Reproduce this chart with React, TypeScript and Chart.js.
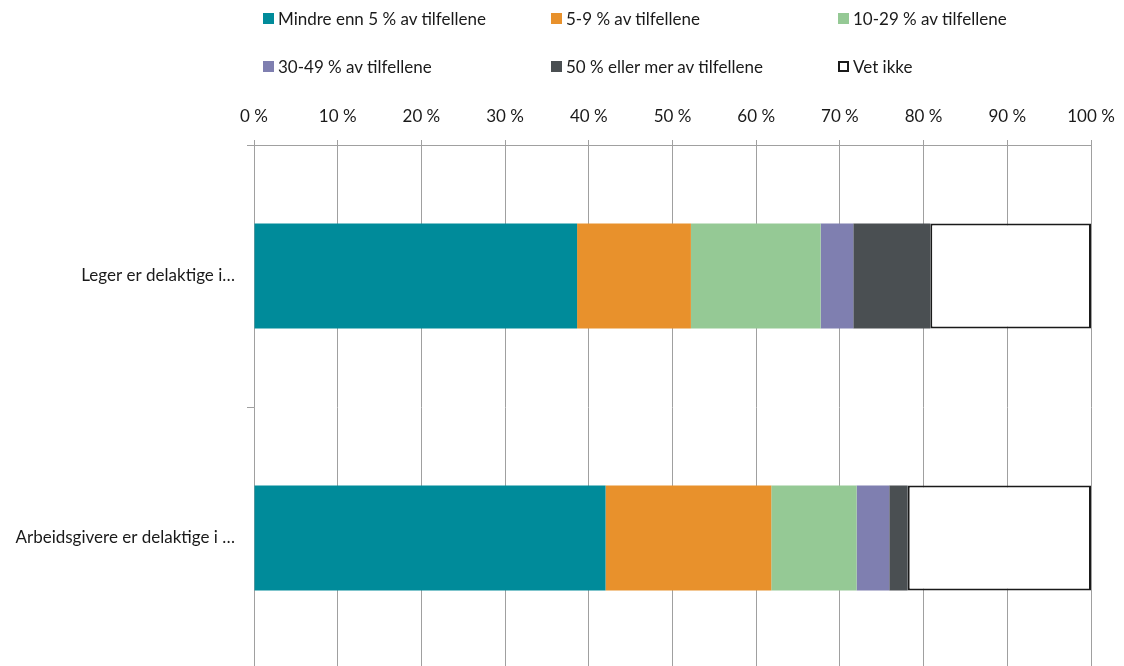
import React, { useEffect, useRef } from "react";
import { Chart, registerables } from "chart.js";

Chart.register(...registerables);

const categories = ["Leger er delaktige i…", "Arbeidsgivere er delaktige i …"];
const seriesLabels = [
  "Mindre enn 5 % av tilfellene",
  "5-9 % av tilfellene",
  "10-29 % av tilfellene",
  "30-49 % av tilfellene",
  "50 % eller mer av tilfellene",
  "Vet ikke",
];
const under5 = [38.6, 42.0];
const from5to9 = [13.6, 19.8];
const from10to29 = [15.5, 10.2];
const from30to49 = [3.9, 3.9];
const over50 = [9.2, 2.2];
const dontKnow = [19.2, 21.9];
const xTicks = [0, 10, 20, 30, 40, 50, 60, 70, 80, 90, 100];

const seriesValues = [under5, from5to9, from10to29, from30to49, over50, dontKnow];
const colors = ["#008b9a", "#e8912c", "#95c995", "#7f7fb0", "#4a4f52", "#ffffff"];

const FONT = "Lato, 'Open Sans', sans-serif";
const FS = 17;

export default function App() {
  const ref = useRef<HTMLCanvasElement>(null);

  useEffect(() => {
    if (!ref.current) return;
    const chart = new Chart(ref.current, {
      type: "bar",
      data: {
        labels: categories,
        datasets: seriesValues.map((vals, i) => ({
          label: seriesLabels[i],
          data: vals,
          backgroundColor: colors[i],
          borderColor: i === 5 ? "#1a1a1a" : colors[i],
          borderWidth: i === 5 ? 2 : 0,
          borderSkipped: false,
          categoryPercentage: 1,
          barPercentage: 0.4,
        })),
      },
      options: {
        indexAxis: "y",
        responsive: false,
        animation: false,
        layout: { padding: { left: 0, right: 33, top: 0, bottom: 0 } },
        plugins: { legend: { display: false }, tooltip: { enabled: false } },
        scales: {
          x: {
            position: "top",
            stacked: true,
            min: 0,
            max: 100,
            afterBuildTicks: (s: any) => {
              s.ticks = xTicks.map((v) => ({ value: v }));
            },
            afterFit: (s: any) => {
              s.height = 145;
              s.paddingLeft = 0;
              s.paddingRight = 0;
            },
            ticks: {
              callback: (v: any) => v + " %",
              color: "#1a1a1a",
              font: { family: FONT, size: FS },
              padding: 13,
              maxRotation: 0,
              autoSkip: false,
            },
            grid: { color: "#a0a0a0", lineWidth: 1, tickLength: 5, drawTicks: true },
            border: { color: "#a0a0a0", width: 1 },
          },
          y: {
            stacked: true,
            afterFit: (s: any) => {
              s.width = 254;
              s.paddingTop = 0;
              s.paddingBottom = 0;
            },
            ticks: {
              color: "#1a1a1a",
              font: { family: FONT, size: FS },
              padding: 12,
            },
            grid: { drawOnChartArea: false, color: "#a0a0a0", tickLength: 7, offset: true },
            border: { color: "#a0a0a0", width: 1 },
          },
        },
      },
    });
    return () => chart.destroy();
  }, []);

  const colLefts = [263, 551, 838];
  const rowCenters = [18, 66];

  return (
    <div
      style={{
        position: "fixed",
        left: 0,
        top: 0,
        width: 1124,
        height: 666,
        overflow: "hidden",
        background: "#fff",
      }}
    >
      <canvas ref={ref} width={1124} height={669} style={{ position: "absolute", left: 0, top: 0 }} />
      {seriesLabels.map((lab, i) => {
        const col = i % 3;
        const row = Math.floor(i / 3);
        return (
          <div
            key={lab}
            style={{
              position: "absolute",
              left: colLefts[col],
              top: rowCenters[row] - 11,
              height: 22,
              display: "flex",
              alignItems: "center",
              fontFamily: FONT,
              fontSize: FS,
              color: "#1a1a1a",
              whiteSpace: "nowrap",
            }}
          >
            <span
              style={{
                display: "inline-block",
                boxSizing: "border-box",
                width: 11,
                height: 11,
                background: colors[i],
                border: i === 5 ? "2px solid #1a1a1a" : "none",
                marginRight: 4,
              }}
            />
            {lab}
          </div>
        );
      })}
    </div>
  );
}
